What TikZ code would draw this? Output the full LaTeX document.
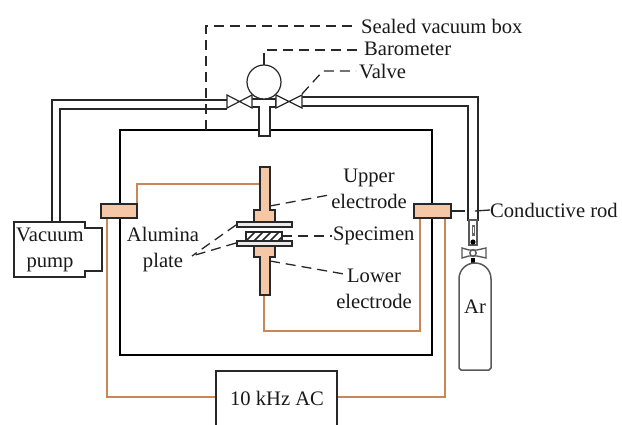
\documentclass[tikz,border=0pt]{standalone}
\usepackage{fontspec}
\setmainfont{Liberation Serif}
\definecolor{wire}{RGB}{201,135,88}
\definecolor{fillc}{RGB}{244,199,166}
\definecolor{ink}{RGB}{40,40,40}
\tikzset{
 pipe/.style={draw=ink,line width=1.2pt},
 chamber/.style={draw=black,line width=2pt},
 wirel/.style={draw=wire,line width=1.5pt},
 part/.style={draw=ink,line width=1.2pt,fill=fillc},
 lead/.style={draw=ink,line width=1.3pt,dash pattern=on 10pt off 6pt},
 solidlead/.style={draw=ink,line width=1.3pt},
 lab/.style={font=\fontsize{20.6pt}{26pt}\selectfont,text=black!90,inner sep=0pt},
 gas/.style={draw=black!65,line width=1.4pt},
}
\begin{document}
\begin{tikzpicture}[x=1pt,y=-1pt]
\useasboundingbox (0,0) rectangle (622,425);
\fill[white] (0,0) rectangle (622,425);
% chamber
\draw[chamber] (120,130) rectangle (432,355);
% text labels
\node[lab,anchor=west] (sealed) at (361,26) {Sealed vacuum box};
\node[lab,anchor=west] (baro) at (364,49) {Barometer};
\node[lab,anchor=west] (valve) at (359,72) {Valve};
\node[lab,align=center] (pump) at (50,250) {Vacuum\\pump};
\node[lab,align=center] (upper) at (369,188.5) {Upper\\electrode};
\node[lab,anchor=west] (spec) at (333,236) {Specimen};
\node[lab,align=center] (lower) at (374,289) {Lower\\electrode};
\node[lab,align=center] (alum) at (163,249.5) {Alumina\\plate};
\node[lab,anchor=west] (rod) at (490,210) {Conductive rod};
\node[lab] (ar) at (475,307) {Ar};
% dashed leads
\coordinate (boxa) at (206,130);
\coordinate (boxb) at (206,26);
\coordinate (boxc) at (358,26);
\draw[lead] (boxa) -- (boxb) -- (boxc);
\draw[lead] (267,50) -- (360,50);
\draw[lead] (302,94) -- (323,71) -- (356,71);
\draw[lead] (270,206) -- (329,195);
\draw[lead] (282,236) -- (332,236);
\draw[lead] (270,261) -- (344,274);
\draw[lead] (236,225) -- (192,256);
\draw[lead] (236,243) -- (192,256);
% pipes
\draw[pipe] (227,100) -- (52,100) -- (52,222);
\draw[pipe] (227,109) -- (60,109) -- (60,222);
\draw[pipe] (302,97) -- (478,97) -- (478,220) -- (468,220) -- (468,106) -- (302,106);
% T
\draw[pipe,fill=white] (252,99) -- (276,99) -- (276,107) -- (270,107) -- (270,136) -- (259,136) -- (259,107) -- (252,107);
% barometer
\draw[pipe] (264,53) -- (264,65);
\node[circle,draw=ink,line width=1.2pt,fill=white,minimum size=34pt,inner sep=0pt] (baroc) at (264,82) {};
% valves
\draw[pipe,fill=white] (227,95) -- (252,108) -- (252,95) -- (227,108) -- cycle;
\draw[pipe,fill=white] (276,95) -- (302,108) -- (302,95) -- (276,108) -- cycle;
% pump
\draw[pipe] (14,222) -- (85,222) -- (85,228) -- (102,228) -- (102,271) -- (85,271) -- (85,277) -- (14,277) -- cycle;
% wires
\draw[wirel] (137,204) -- (137,184) -- (260,184);
\draw[wirel] (264,295) -- (264,331) -- (420,331) -- (420,218);
\draw[wirel] (107,218) -- (107,397) -- (216,397);
\draw[wirel] (445,218) -- (445,397) -- (337,397);
% AC box: runs off the bottom edge
\draw[pipe] (216,425) -- (216,371) -- (337,371) -- (337,425);
\node[lab] (ac) at (277,398) {10 kHz AC};
% feedthroughs
\node[part,minimum width=36pt,minimum height=14pt,inner sep=0pt] (fl) at (119,211) {};
\node[part,minimum width=37pt,minimum height=14pt,inner sep=0pt] (fr) at (432.5,211) {};
% rod ties
\draw[solidlead] (fr.east) -- (465,211);
\draw[solidlead] (475,211) -- (rod.west);
% electrodes
\draw[part] (260,167) -- (270,167) -- (270,210) -- (275,210) -- (275,222) -- (254,222) -- (254,210) -- (260,210) -- cycle;
\draw[part] (254,246) -- (275,246) -- (275,257) -- (270,257) -- (270,295) -- (260,295) -- (260,257) -- (254,257) -- cycle;
\draw[pipe,fill=black!8] (237,222) rectangle (292,227);
\draw[pipe,fill=black!8] (237,241) rectangle (292,246);
\draw[pipe,fill=white] (246,232) rectangle (282,241);
\begin{scope}
\clip (246,232) rectangle (282,241);
\foreach \hx in {246,254,262,270,278,286}
  \draw[ink,line width=1.6pt] (\hx,241) -- (\hx+9,232);
\end{scope}
\draw[pipe] (246,232) rectangle (282,241);
% gas bottle
\draw[gas,fill=white] (469,220) rectangle (477,245);
\fill[black!60] (471.5,225) rectangle (474.5,236);
\fill[white] (472.5,227) rectangle (473.5,233);
\fill[black] (473,242) circle (2.6);
\draw[gas,fill=white] (462,248) -- (469,250) -- (477,250) -- (486,248) -- (486,258) -- (477,256) -- (469,256) -- (462,258) -- cycle;
\draw[gas,fill=white] (473,253) circle (3.2);
\fill[black] (471,258) rectangle (475,263);
\draw[gas,line width=1.5pt] (459,279) .. controls (459,270) and (466,263) .. (475,263) .. controls (484,263) and (491,270) .. (491,279) -- (491,368) -- (489,370) -- (461,370) -- (459,368) -- cycle;
\end{tikzpicture}
\end{document}
